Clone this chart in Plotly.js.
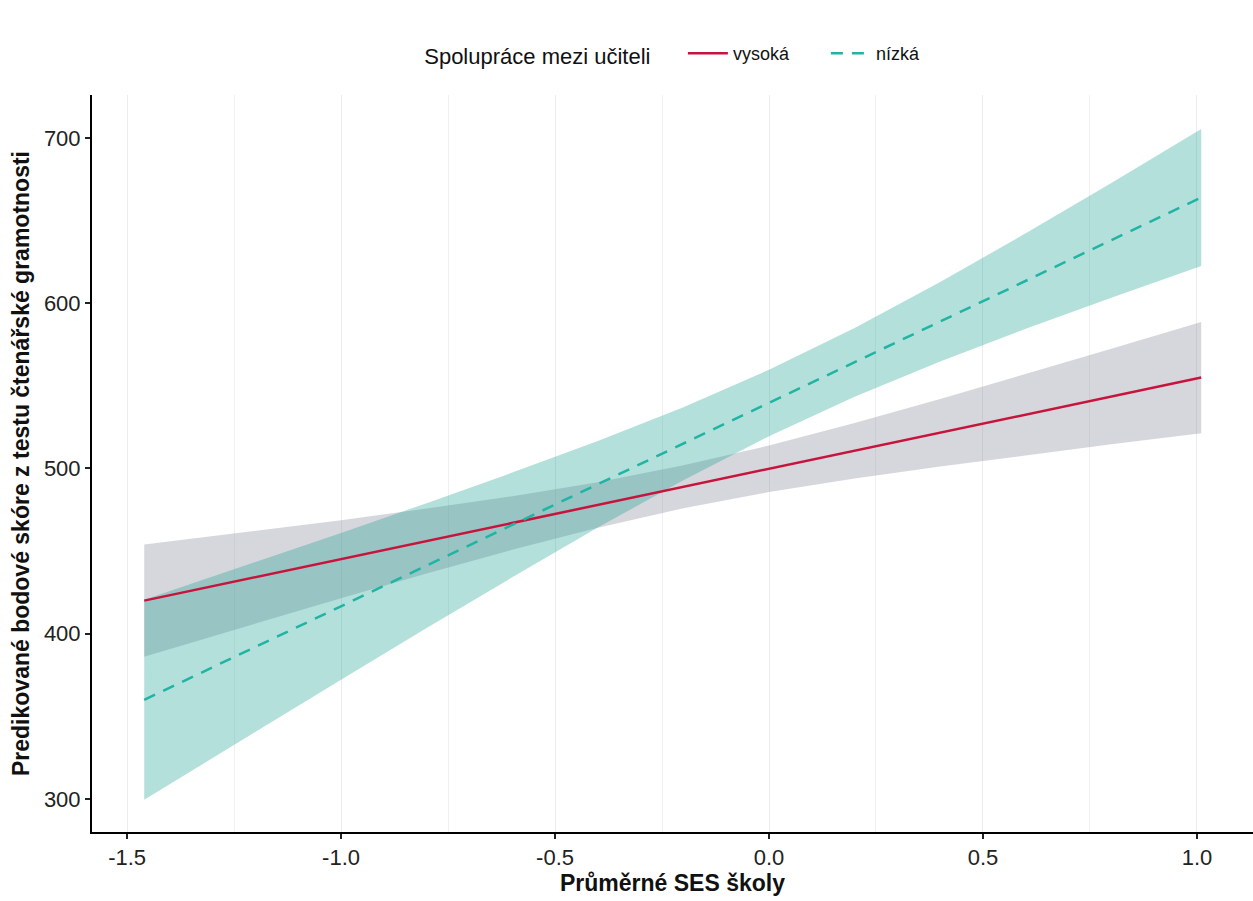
<!DOCTYPE html>
<html>
<head>
<meta charset="utf-8">
<script src="https://cdn.plot.ly/plotly-3.0.1.min.js"></script>
<style>html,body{margin:0;padding:0;background:#fff;}#chart{width:1253px;height:901px;}</style>
</head>
<body>
<div id="chart"></div>
<script>
// SES values at which predictions are read
var ses = [-1.46, -1.2, -1.0, -0.8, -0.6, -0.4, -0.2, 0.0, 0.2, 0.4, 0.6, 0.8, 1.01];

// "vysoká" (high collaboration)
var vysokaFit   = [420.0, 434.2, 445.1, 456.1, 467.0, 477.9, 488.9, 499.8, 510.7, 521.6, 532.6, 543.5, 555.0];
var vysokaLower = [386.0, 406.2, 421.5, 436.5, 450.8, 464.1, 475.9, 485.7, 493.9, 501.2, 508.1, 514.6, 521.3];
var vysokaUpper = [454.0, 462.2, 468.7, 475.7, 483.2, 491.7, 501.9, 513.9, 527.5, 542.0, 557.1, 572.4, 588.7];

// "nízká" (low collaboration)
var nizkaFit   = [360.0, 392.0, 416.6, 441.2, 465.8, 490.4, 515.0, 539.6, 564.2, 588.8, 613.4, 638.0, 664.0];
var nizkaLower = [299.5, 340.7, 372.2, 403.4, 434.1, 464.2, 492.9, 519.5, 543.4, 564.8, 584.5, 603.3, 622.5];
var nizkaUpper = [420.5, 443.3, 461.0, 479.0, 497.5, 516.6, 537.1, 559.7, 585.0, 612.8, 642.3, 672.7, 705.5];

var seriesNames = ["vysoká", "nízká"];
var xTicks = [-1.5, -1.0, -0.5, 0.0, 0.5, 1.0];
var yTicks = [300, 400, 500, 600, 700];

var red = "#c8143c";
var teal = "#20b4a3";
var greyFill = "rgba(130,135,150,0.33)";
var tealFill = "rgba(26,160,150,0.33)";

var traces = [
  {x: ses, y: vysokaLower, mode: "lines", line: {width: 0}, showlegend: false, hoverinfo: "skip"},
  {x: ses, y: vysokaUpper, mode: "lines", line: {width: 0}, fill: "tonexty", fillcolor: greyFill, showlegend: false, hoverinfo: "skip"},
  {x: ses, y: nizkaLower, mode: "lines", line: {width: 0}, showlegend: false, hoverinfo: "skip"},
  {x: ses, y: nizkaUpper, mode: "lines", line: {width: 0}, fill: "tonexty", fillcolor: tealFill, showlegend: false, hoverinfo: "skip"},
  {x: ses, y: vysokaFit, mode: "lines", name: seriesNames[0], line: {color: red, width: 2.5}},
  {x: ses, y: nizkaFit, mode: "lines", name: seriesNames[1], line: {color: teal, width: 2.5, dash: "12px,9px"}}
];

var layout = {
  width: 1253, height: 901,
  paper_bgcolor: "#ffffff", plot_bgcolor: "#ffffff",
  margin: {l: 92, r: 0, t: 95, b: 69},
  font: {family: "Liberation Sans, Arial, sans-serif", color: "#222"},
  showlegend: true,
  legend: {
    orientation: "h", x: 0.52, xanchor: "center", y: 1.055, yanchor: "middle",
    traceorder: "normal",
    title: {text: "Spolupráce mezi učiteli    ", side: "left", font: {size: 22, color: "#111"}},
    font: {size: 18, color: "#111"},
    itemwidth: 40, entrywidth: 88, entrywidthmode: "pixels", tracegroupgap: 0
  },
  xaxis: {
    range: [-1.582, 1.131],
    tickvals: xTicks, ticktext: xTicks.map(function(v){return v.toFixed(1);}),
    showgrid: true, gridcolor: "#ececec", gridwidth: 1,
    minor: {dtick: 0.25, tick0: 0, showgrid: true, gridcolor: "#f0f0f0", gridwidth: 1},
    zeroline: false,
    showline: true, linecolor: "#000", linewidth: 2,
    ticks: "outside", ticklen: 5, tickwidth: 1.5, tickcolor: "#222",
    tickfont: {size: 22, color: "#222"},
    title: {text: "<b>Průměrné SES školy</b>", font: {size: 23, color: "#111"}, standoff: 2}
  },
  yaxis: {
    range: [280, 726],
    tickvals: yTicks,
    showgrid: false, zeroline: false,
    showline: true, linecolor: "#000", linewidth: 2,
    ticks: "outside", ticklen: 5, tickwidth: 1.5, tickcolor: "#222",
    tickfont: {size: 22, color: "#222"},
    title: {text: "<b>Predikované bodové skóre z testu čtenářské gramotnosti</b>", font: {size: 23, color: "#111"}, standoff: 8}
  }
};

Plotly.newPlot("chart", traces, layout, {displayModeBar: false});
</script>
</body>
</html>
